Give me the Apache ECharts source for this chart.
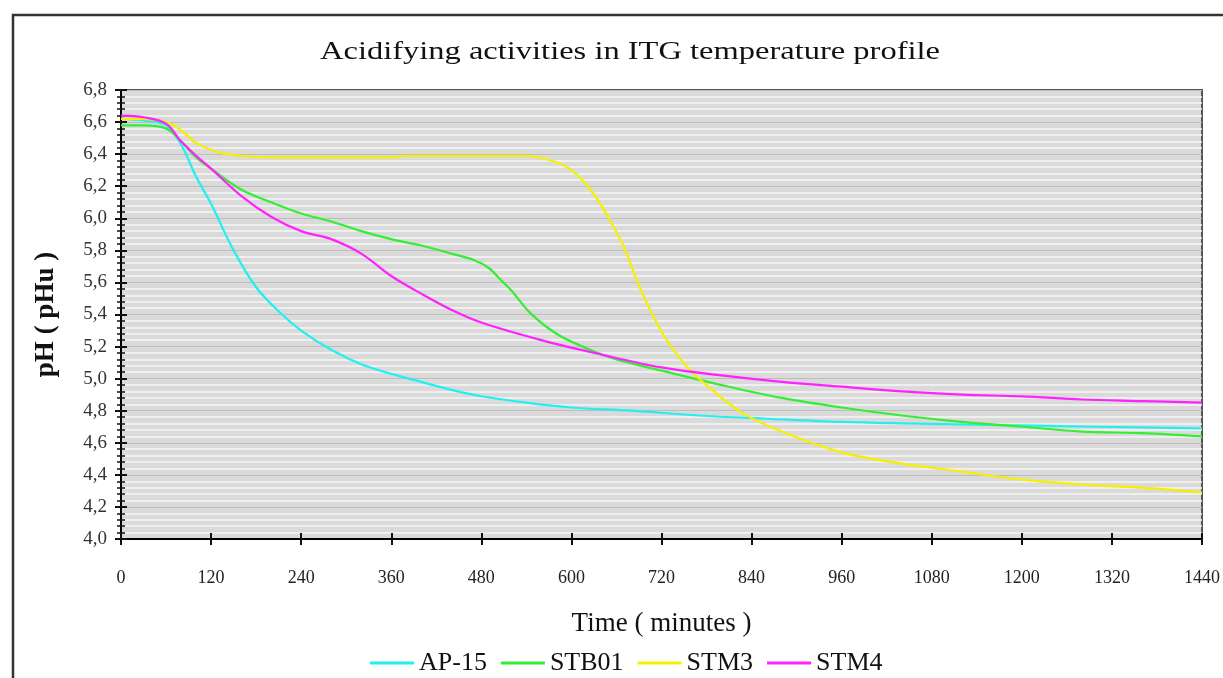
<!DOCTYPE html>
<html>
<head>
<meta charset="utf-8">
<script src="https://cdn.jsdelivr.net/npm/echarts@6/dist/echarts.min.js"></script>
<style>
  html, body { margin: 0; padding: 0; background: #fff; }
  #chart { width: 1223px; height: 678px; }
</style>
</head>
<body>
<div id="chart"></div>
<script>
// Time axis ticks (minutes) and pH axis ticks
const xTicks = [0, 120, 240, 360, 480, 600, 720, 840, 960, 1080, 1200, 1320, 1440];
const yTicks = [4.0, 4.2, 4.4, 4.6, 4.8, 5.0, 5.2, 5.4, 5.6, 5.8, 6.0, 6.2, 6.4, 6.6, 6.8];

const titleText = 'Acidifying activities in ITG temperature profile';
const seriesNames = ['AP-15', 'STB01', 'STM3', 'STM4'];
const seriesColors = ['#22f0f0', '#33ee33', '#f4f000', '#ff22ff'];

// AP-15
const apTime = [0, 30, 60, 80, 100, 120, 150, 180, 210, 240, 280, 320, 360, 400, 440, 480, 540, 600, 680, 770, 860, 960, 1060, 1170, 1300, 1440];
const apPH   = [6.62, 6.61, 6.58, 6.46, 6.26, 6.09, 5.80, 5.57, 5.42, 5.30, 5.18, 5.09, 5.03, 4.98, 4.93, 4.89, 4.85, 4.82, 4.80, 4.77, 4.75, 4.73, 4.72, 4.71, 4.70, 4.69];

// STB01
const stbTime = [0, 30, 60, 80, 100, 120, 160, 200, 240, 280, 320, 360, 400, 440, 470, 490, 505, 520, 545, 580, 620, 660, 720, 800, 880, 960, 1040, 1120, 1200, 1280, 1360, 1440];
const stbPH   = [6.58, 6.58, 6.56, 6.48, 6.38, 6.31, 6.18, 6.10, 6.03, 5.98, 5.92, 5.87, 5.83, 5.78, 5.74, 5.69, 5.62, 5.55, 5.41, 5.28, 5.19, 5.12, 5.05, 4.96, 4.88, 4.82, 4.77, 4.73, 4.70, 4.67, 4.66, 4.64];

// STM3
const stm3Time = [0, 30, 60, 80, 100, 130, 160, 200, 260, 320, 360, 380, 440, 500, 540, 565, 590, 610, 630, 650, 670, 690, 710, 730, 755, 790, 830, 880, 960, 1040, 1120, 1200, 1280, 1360, 1440];
const stm3PH   = [6.62, 6.62, 6.60, 6.55, 6.47, 6.41, 6.39, 6.38, 6.38, 6.38, 6.38, 6.39, 6.39, 6.39, 6.39, 6.37, 6.33, 6.26, 6.15, 6.00, 5.82, 5.58, 5.38, 5.22, 5.07, 4.92, 4.78, 4.67, 4.54, 4.47, 4.42, 4.37, 4.34, 4.32, 4.29];

// STM4
const stm4Time = [0, 30, 60, 80, 100, 120, 160, 200, 240, 280, 320, 360, 400, 440, 480, 560, 640, 720, 800, 880, 960, 1040, 1120, 1200, 1280, 1360, 1440];
const stm4PH   = [6.64, 6.63, 6.59, 6.48, 6.39, 6.31, 6.14, 6.01, 5.92, 5.87, 5.78, 5.64, 5.53, 5.43, 5.35, 5.24, 5.15, 5.07, 5.02, 4.98, 4.95, 4.92, 4.90, 4.89, 4.87, 4.86, 4.85];

const times = [apTime, stbTime, stm3Time, stm4Time];
const values = [apPH, stbPH, stm3PH, stm4PH];

const serif = '"Liberation Serif", "DejaVu Serif", serif';
const chart = echarts.init(document.getElementById('chart'), null, { renderer: 'canvas' });

const yMin = yTicks[0], yMax = yTicks[yTicks.length - 1];
const yStep = +(yTicks[1] - yTicks[0]).toFixed(2);
const xMin = xTicks[0], xMax = xTicks[xTicks.length - 1];
const xStep = xTicks[1] - xTicks[0];

const gridPos = { left: 121, right: 20, top: 90, bottom: 139 };

// shared tick styling for the axes that only add inward ticks
const innerTick = { show: true, inside: true, length: 6, lineStyle: { color: '#111', width: 2 } };

chart.setOption({
  backgroundColor: '#ffffff',
  animation: false,
  legend: {
    data: seriesNames,
    left: 365, top: 645,
    itemWidth: 44, itemHeight: 3, itemGap: 14,
    icon: 'rect',
    textStyle: { fontFamily: serif, fontSize: 26, color: '#111' }
  },
  grid: Object.assign({
    show: true, backgroundColor: '#dadada', borderColor: '#555', borderWidth: 2
  }, gridPos),
  xAxis: [{
    type: 'value', min: xMin, max: xMax, interval: xStep,
    name: 'Time ( minutes )', nameLocation: 'middle', nameGap: 71,
    nameTextStyle: { fontFamily: serif, fontSize: 27, color: '#111' },
    axisLine: { lineStyle: { color: '#000', width: 2 } },
    axisTick: { show: true, length: 6, lineStyle: { color: '#111', width: 2 } },
    axisLabel: { margin: 30, fontFamily: serif, fontSize: 18, color: '#222',
      formatter: v => String(v) },
    splitLine: { show: false }
  }, {
    type: 'value', min: xMin, max: xMax, interval: xStep, position: 'bottom',
    axisLine: { show: false }, axisTick: innerTick,
    axisLabel: { show: false }, splitLine: { show: false }
  }],
  yAxis: [{
    type: 'value', min: yMin, max: yMax, interval: yStep,
    name: 'pH ( pHu )', nameLocation: 'middle', nameGap: 61, nameRotate: 90,
    nameTextStyle: { fontFamily: serif, fontSize: 27, fontWeight: 'bold', color: '#111' },
    axisLine: { lineStyle: { color: '#000', width: 2 } },
    axisTick: { show: true, length: 6, lineStyle: { color: '#111', width: 2 } },
    minorTick: { show: true, splitNumber: 5, length: 4, lineStyle: { color: '#111', width: 1.5 } },
    axisLabel: { margin: 14, fontFamily: serif, fontSize: 19, color: '#333',
      formatter: v => v.toFixed(1).replace('.', ',') },
    splitLine: { show: true, lineStyle: { color: '#bdbdbd', width: 1 } },
    minorSplitLine: { show: true, lineStyle: { color: '#f6f6f6', width: 1.5 } }
  }, {
    type: 'value', min: yMin, max: yMax, interval: yStep, position: 'left',
    axisLine: { show: false },
    axisTick: innerTick,
    minorTick: { show: true, splitNumber: 5, length: 4, lineStyle: { color: '#111', width: 1.5 } },
    axisLabel: { show: false },
    splitLine: { show: false }
  }],
  graphic: [{
    type: 'rect', silent: true, z: -1,
    shape: { x: 13, y: 15, width: 1300, height: 800 },
    style: { fill: 'none', stroke: '#333', lineWidth: 2.5 }
  }, {
    // chart heading, drawn slightly widened
    type: 'text', silent: true,
    x: 630, y: 52, scaleX: 1.25,
    style: {
      text: titleText, fill: '#111',
      font: '26px ' + serif,
      textAlign: 'center', textVerticalAlign: 'middle'
    }
  }],
  series: seriesNames.map((name, i) => ({
    name, type: 'line', xAxisIndex: 0, yAxisIndex: 0,
    data: times[i].map((t, k) => [t, values[i][k]]),
    smooth: 0.35, symbol: 'none',
    lineStyle: { color: seriesColors[i], width: 2.2 },
    itemStyle: { color: seriesColors[i] }
  }))
});
</script>
</body>
</html>
